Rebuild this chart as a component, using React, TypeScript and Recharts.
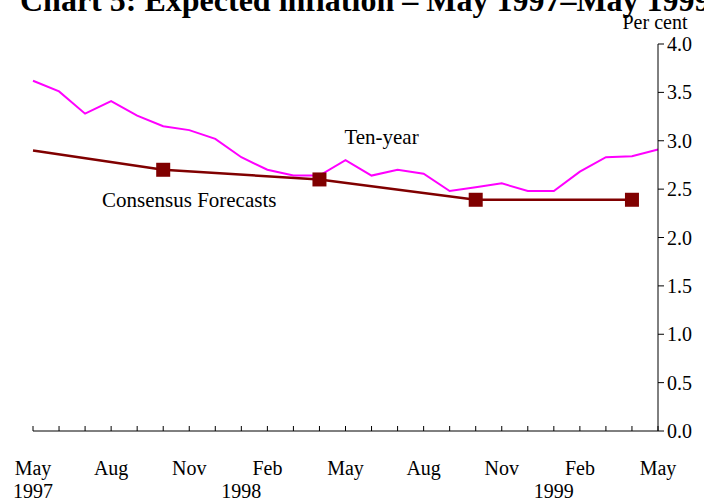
import { LineChart, Line, XAxis, YAxis, ReferenceDot } from "recharts";

// one entry per month, May 1997 - May 1999
const months = [
  "1997-05", "1997-06", "1997-07", "1997-08", "1997-09", "1997-10", "1997-11", "1997-12",
  "1998-01", "1998-02", "1998-03", "1998-04", "1998-05", "1998-06", "1998-07", "1998-08",
  "1998-09", "1998-10", "1998-11", "1998-12", "1999-01", "1999-02", "1999-03", "1999-04",
  "1999-05",
];

const monthLabels: Record<string, string> = { "05": "May", "08": "Aug", "11": "Nov", "02": "Feb" };
const yearLabels: Record<string, string> = { "1997-05": "1997", "1998-01": "1998", "1999-01": "1999" };

const tenYear = [
  3.62, 3.51, 3.28, 3.41, 3.26, 3.15, 3.11, 3.02, 2.83, 2.7, 2.64, 2.64, 2.8, 2.64, 2.7, 2.66,
  2.48, 2.52, 2.56, 2.48, 2.48, 2.68, 2.83, 2.84, 2.91,
];

const consensus = [
  2.9, null, null, null, null, 2.7, null, null, null, null, null, 2.6, null, null, null, null,
  null, 2.39, null, null, null, null, null, 2.39, null,
];

// survey dates that get a square marker
const surveyMonths = ["1997-10", "1998-04", "1998-10", "1999-04"];

const yTicks = [0, 0.5, 1, 1.5, 2, 2.5, 3, 3.5, 4];

const annotations = [
  { text: "Ten-year", month: "1998-06", value: 3.03, dx: 10 },
  { text: "Consensus Forecasts", month: "1997-11", value: 2.38, dx: 0 },
];

const data = months.map((m, i) => ({
  month: m,
  tenYear: tenYear[i],
  consensus: consensus[i],
}));

const FONT = "'Liberation Serif', 'Times New Roman', serif";

function MonthTick(props: any) {
  const { x, y, payload } = props;
  const key: string = payload.value;
  const label = monthLabels[key.slice(5)];
  const year = yearLabels[key];
  return (
    <g>
      <line x1={x} x2={x} y1={y} y2={y - 5} stroke="#000" strokeWidth={1} />
      {label && (
        <text x={x} y={y + 44} textAnchor="middle" fontSize={20} fontFamily={FONT} fill="#000">
          {label}
        </text>
      )}
      {year && (
        <text x={x} y={y + 67} textAnchor="middle" fontSize={20} fontFamily={FONT} fill="#000">
          {year}
        </text>
      )}
    </g>
  );
}

function SurveyDot(props: any) {
  const { cx, cy, payload, index } = props;
  if (!surveyMonths.includes(payload.month) || cy == null) return <g key={`d${index}`} />;
  return <rect key={`d${index}`} x={cx - 7} y={cy - 7} width={14} height={14} fill="#800000" />;
}

export default function App() {
  return (
    <div style={{ position: "absolute", left: 0, top: 0, width: 704, height: 502, background: "#fff" }}>
      <LineChart width={704} height={502} data={data} margin={{ top: 44, right: 0, left: 33, bottom: 0 }}>
        <XAxis
          dataKey="month"
          interval={0}
          tickLine={false}
          tickSize={0}
          tickMargin={0}
          height={71}
          axisLine={{ stroke: "#000", strokeWidth: 1 }}
          tick={<MonthTick />}
        />
        <YAxis
          orientation="right"
          domain={[0, 4]}
          ticks={yTicks}
          width={46}
          tickSize={6}
          tickMargin={3}
          tickFormatter={(v: number) => v.toFixed(1)}
          axisLine={{ stroke: "#000", strokeWidth: 1 }}
          tickLine={{ stroke: "#000", strokeWidth: 1 }}
          tick={{ fontSize: 20, fontFamily: FONT, fill: "#000" }}
        />
        <Line
          dataKey="tenYear"
          type="linear"
          stroke="#ff00ff"
          strokeWidth={2}
          dot={false}
          activeDot={false}
          isAnimationActive={false}
        />
        <Line
          dataKey="consensus"
          type="linear"
          stroke="#800000"
          strokeWidth={2.5}
          connectNulls
          dot={<SurveyDot />}
          activeDot={false}
          isAnimationActive={false}
        />
        {annotations.map((a) => (
          <ReferenceDot
            key={a.text}
            x={a.month}
            y={a.value}
            r={0}
            fill="none"
            stroke="none"
            label={(p: any) => (
              <text
                x={p.viewBox.x + a.dx}
                y={p.viewBox.y + 6}
                textAnchor="middle"
                fontSize={21}
                fontFamily={FONT}
                fill="#000"
              >
                {a.text}
              </text>
            )}
          />
        ))}
      </LineChart>
      <svg width={704} height={502} style={{ position: "absolute", left: 0, top: 0, pointerEvents: "none" }}>
        <text x={20} y={11} fontSize={32} fontWeight="bold" fontFamily={FONT} fill="#000">
          Chart 5: Expected inflation – May 1997–May 1999
        </text>
        <text x={655} y={29} textAnchor="middle" fontSize={20} fontFamily={FONT} fill="#000">
          Per cent
        </text>
      </svg>
    </div>
  );
}
